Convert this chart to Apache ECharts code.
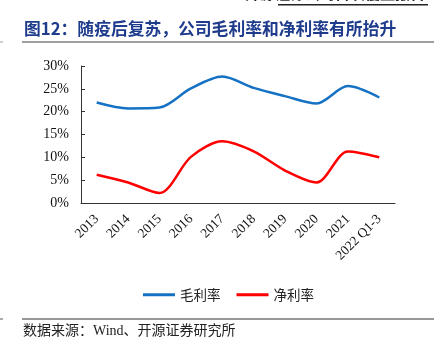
<!DOCTYPE html>
<html>
<head>
<meta charset="utf-8">
<script src="https://cdn.jsdelivr.net/npm/echarts@6/dist/echarts.min.js"></script>
<style>
  html, body { margin: 0; padding: 0; background: #fff; }
  #chart { width: 443px; height: 344px; }
</style>
</head>
<body>
<div id="chart"></div>
<script>
// Margin history (percent)
const years = ['2013', '2014', '2015', '2016', '2017', '2018', '2019', '2020', '2021', '2022 Q1-3'];
const grossMargin = [22.0, 20.7, 20.9, 25.1, 27.7, 25.2, 23.4, 21.8, 25.6, 23.1];
const netMargin = [6.2, 4.5, 2.2, 10.1, 13.5, 11.3, 7.1, 4.5, 11.3, 10.0];
const yTicks = [0, 5, 10, 15, 20, 25, 30];

const serif = '"Liberation Serif", "Times New Roman", "Noto Sans CJK SC", serif';
const cjk = '"Liberation Serif", "Noto Sans CJK SC", sans-serif';

const chart = echarts.init(document.getElementById('chart'));
chart.setOption({
  animation: false,
  backgroundColor: '#fff',
  graphic: [
    // running header, clipped at the top edge
    { type: 'text', right: 18, top: -14, style: { text: '开源证券公司首次覆盖报告', font: 'bold 15px "Noto Sans CJK SC"', fill: '#222' } },
    { type: 'rect', shape: { x: 278, y: 4, width: 150, height: 1.5 }, style: { fill: '#222' } },
    // figure title
    { type: 'text', left: 24, top: 20, style: { text: '图12：随疫后复苏，公司毛利率和净利率有所抬升', font: 'bold 16.8px "Noto Sans CJK SC"', fill: '#1f3c8c' } },
    { type: 'rect', shape: { x: 22, y: 41, width: 412, height: 2 }, style: { fill: '#a0a0a0' } },
    { type: 'rect', shape: { x: 0, y: 41.5, width: 3, height: 1 }, style: { fill: '#a0a0a0' } },
    // source note
    { type: 'rect', shape: { x: 22, y: 318.5, width: 412, height: 1 }, style: { fill: '#333' } },
    { type: 'rect', shape: { x: 0, y: 318.5, width: 3, height: 1 }, style: { fill: '#555' } },
    { type: 'text', left: 23, top: 324, style: { text: '数据来源：Wind、开源证券研究所', font: '14px ' + cjk, fill: '#222' } }
  ],
  legend: {
    left: 138,
    top: 283,
    itemWidth: 32,
    itemHeight: 3,
    itemGap: 16,
    icon: 'rect',
    textStyle: { fontFamily: 'Noto Sans CJK SC', fontSize: 13.5, color: '#222' },
    data: ['毛利率', '净利率']
  },
  grid: { left: 81, right: 48, top: 66, bottom: 141, containLabel: false },
  xAxis: {
    type: 'category',
    data: years,
    boundaryGap: true,
    axisLine: { lineStyle: { color: '#333', width: 1 } },
    axisTick: { inside: true, length: 4, alignWithLabel: false, lineStyle: { color: '#333' } },
    axisLabel: { rotate: 45, interval: 0, margin: 14, fontFamily: serif, fontSize: 13.5, color: '#111' }
  },
  yAxis: {
    type: 'value',
    min: 0,
    max: 30,
    interval: 5,
    axisLine: { show: true, lineStyle: { color: '#333', width: 1 } },
    axisTick: { show: true, inside: true, length: 4, lineStyle: { color: '#333' } },
    splitLine: { show: false },
    axisLabel: {
      margin: 12,
      fontFamily: serif,
      fontSize: 14,
      color: '#111',
      formatter: v => (yTicks.includes(v) ? v + '%' : '')
    }
  },
  series: [
    {
      name: '毛利率',
      type: 'line',
      data: grossMargin,
      smooth: 0.3,
      showSymbol: false,
      lineStyle: { color: '#1471c4', width: 2.5 },
      itemStyle: { color: '#1471c4' }
    },
    {
      name: '净利率',
      type: 'line',
      data: netMargin,
      smooth: 0.3,
      showSymbol: false,
      lineStyle: { color: '#ff0000', width: 2.5 },
      itemStyle: { color: '#ff0000' }
    }
  ]
});
</script>
</body>
</html>
